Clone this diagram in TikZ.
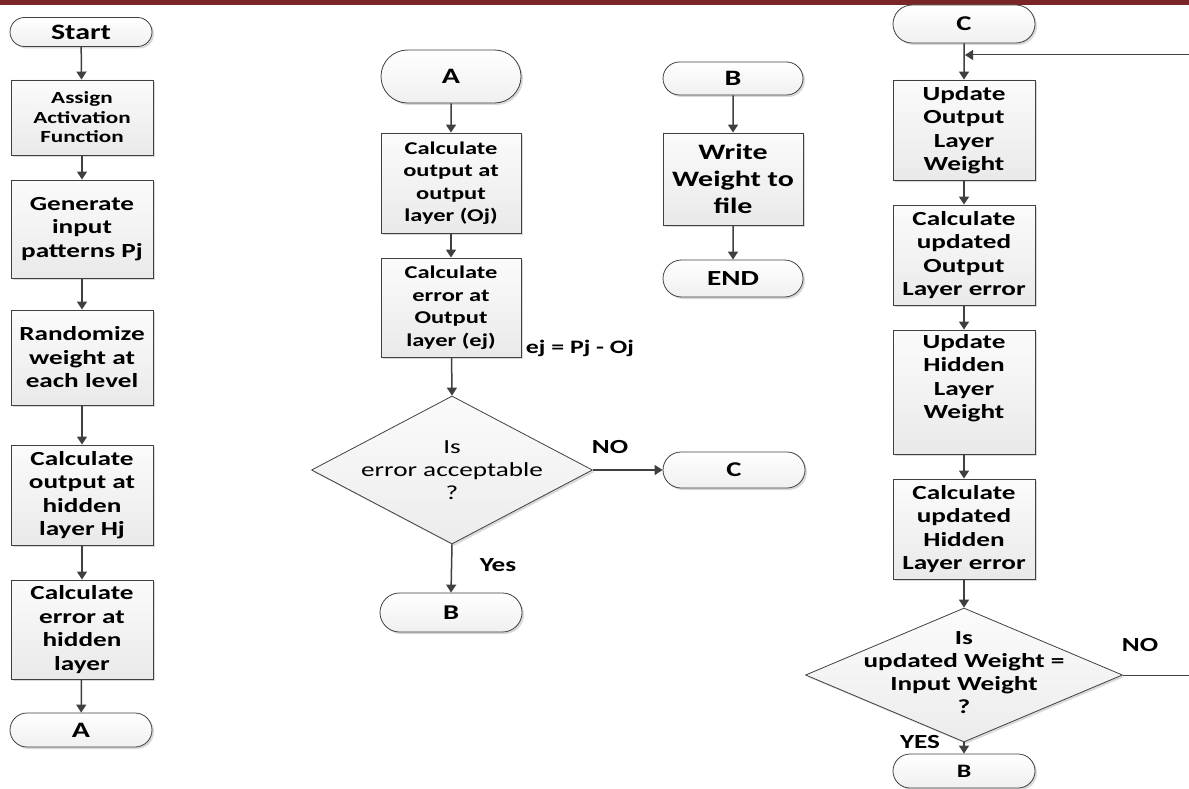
\documentclass[tikz,border=0pt]{standalone}
\usepackage{fontspec}
\setmainfont{Carlito}[FakeStretch=1.36]
\usetikzlibrary{shapes.geometric,shapes.misc,arrows.meta,shadows}
\definecolor{barred}{RGB}{122,38,38}
\definecolor{ln}{RGB}{64,64,64}
\tikzset{
  shd/.style={general shadow={shadow xshift=2pt, shadow yshift=-2pt, fill=gray!30}},
  box/.style={shd, draw=ln, line width=0.9pt, top color=gray!3, bottom color=gray!17,
    align=center, inner sep=0pt, minimum width=142},
  term/.style={shd, rounded rectangle, draw=ln, line width=0.8pt, top color=white,
    bottom color=gray!12, inner sep=0pt, minimum width=142},
  dec/.style={shd, diamond, draw=ln, line width=0.8pt, top color=gray!3,
    bottom color=gray!15, inner sep=0pt},
  arr/.style={draw=ln, line width=1.5pt, -{Triangle[length=8pt,width=10pt]}},
  fa/.style={font=\bfseries\fontsize{20}{23.5}\selectfont},
  fb/.style={font=\bfseries\fontsize{18}{22.5}\selectfont},
  lbl/.style={font=\bfseries\fontsize{20}{23}\selectfont, inner sep=0pt},
}
\begin{document}
\begin{tikzpicture}[x=1pt,y=-1pt]
\useasboundingbox (0,0) rectangle (1189,789);
\fill[barred] (0,0) rectangle (1189,5);
% column 1
\node[term, minimum height=29, font=\bfseries\fontsize{22}{24}\selectfont] (s1) at (81,32) {Start};
\node[box, minimum height=75, font=\bfseries\fontsize{17}{19.5}\selectfont] (b1) at (82,117.5) {Assign\\Activation\\Function};
\node[box, fa, minimum height=98] (b2) at (82,229) {Generate\\input\\patterns Pj};
\node[box, fa, minimum height=95] (b3) at (82,357.5) {Randomize\\weight at\\each level};
\node[box, fa, minimum height=100] (b4) at (82,495) {Calculate\\output at\\hidden\\layer Hj};
\node[box, fa, minimum height=99] (b5) at (82,629.5) {Calculate\\error at\\hidden\\layer};
\node[term, minimum height=34, font=\bfseries\fontsize{22}{24}\selectfont] (a1) at (81,730) {A};
\draw[arr] (s1) -- (b1);
\draw[arr] (b1) -- (b2);
\draw[arr] (b2) -- (b3);
\draw[arr] (b3) -- (b4);
\draw[arr] (b4) -- (b5);
\draw[arr] (b5) -- (a1);
% column 2
\node[term, minimum width=140, minimum height=53, font=\bfseries\fontsize{22}{24}\selectfont] (a2) at (451,76.5) {A};
\node[box, fb, minimum width=140, minimum height=100] (c1) at (451,183) {Calculate\\output at\\output\\layer (Oj)};
\node[box, fb, minimum width=140, minimum height=99] (c2) at (451,307.5) {Calculate\\error at\\Output\\layer (ej)};
\node[dec, minimum width=281, minimum height=148] (d1) at (452,470) {};
\node[font=\fontsize{20}{23}\selectfont, align=center, inner sep=0pt] (d1t) at (452,470) {Is\\error acceptable\\?};
\node[term, minimum height=36, font=\bfseries\fontsize{21}{23}\selectfont] (cC) at (734,470) {C};
\node[term, minimum height=39, font=\bfseries\fontsize{21}{23}\selectfont] (bB) at (451,612.5) {B};
\node[lbl, font=\bfseries\fontsize{19}{22}\selectfont] (eq) at (580,348) {ej = Pj - Oj};
\node[lbl] (no1) at (610,447) {NO};
\node[lbl] (yes1) at (498,565) {Yes};
\draw[arr] (a2) -- (c1);
\draw[arr] (c1) -- (c2);
\draw[arr] (c2) -- (d1.north);
\draw[arr] (d1.east) -- (cC.west);
\draw[arr] (d1.south) -- (bB.north);
% column 3
\node[term, minimum width=140, minimum height=33, font=\bfseries\fontsize{22}{24}\selectfont] (tB) at (733,78.5) {B};
\node[box, minimum width=140, minimum height=92, font=\bfseries\fontsize{22}{27}\selectfont] (w1) at (733,179) {Write\\Weight to\\file};
\node[term, minimum width=140, minimum height=37, font=\bfseries\fontsize{21.5}{24}\selectfont] (tE) at (733,278.5) {END};
\draw[arr] (tB) -- (w1);
\draw[arr] (w1) -- (tE);
% column 4
\node[term, minimum height=38, font=\bfseries\fontsize{21}{23}\selectfont] (tC) at (964,24) {C};
\node[box, fa, minimum height=100] (u1) at (964,130) {Update\\Output\\Layer\\Weight};
\node[box, fa, minimum height=100] (u2) at (964,255) {Calculate\\updated\\Output\\Layer error};
\node[box, fa, minimum height=124] (u3) at (964,392) {Update\\Hidden\\Layer\\Weight\\[8pt]};
\node[box, fa, minimum height=100] (u4) at (964,529) {Calculate\\updated\\Hidden\\Layer error};
\node[dec, minimum width=317, minimum height=134] (d2) at (964,675) {};
\node[font=\bfseries\fontsize{20}{23}\selectfont, align=center, inner sep=0pt] (d2t) at (964,673) {Is\\updated Weight =\\Input Weight\\?};
\node[term, minimum height=34, font=\bfseries\fontsize{19}{21}\selectfont] (tB2) at (964,771) {B};
\node[lbl] (no2) at (1140,645) {NO};
\node[lbl] (yes2) at (920,742) {YES};
\coordinate (j) at (965,55);
\draw[arr] (tC) -- (u1);
\draw[arr] (u1) -- (u2);
\draw[arr] (u2) -- (u3);
\draw[arr] (u3) -- (u4);
\draw[arr] (u4) -- (d2.north);
\draw[arr] (d2.south) -- (tB2.north);
\draw[arr, line width=1pt] (d2.east) -- (1196,675) |- (j);
\end{tikzpicture}
\end{document}
